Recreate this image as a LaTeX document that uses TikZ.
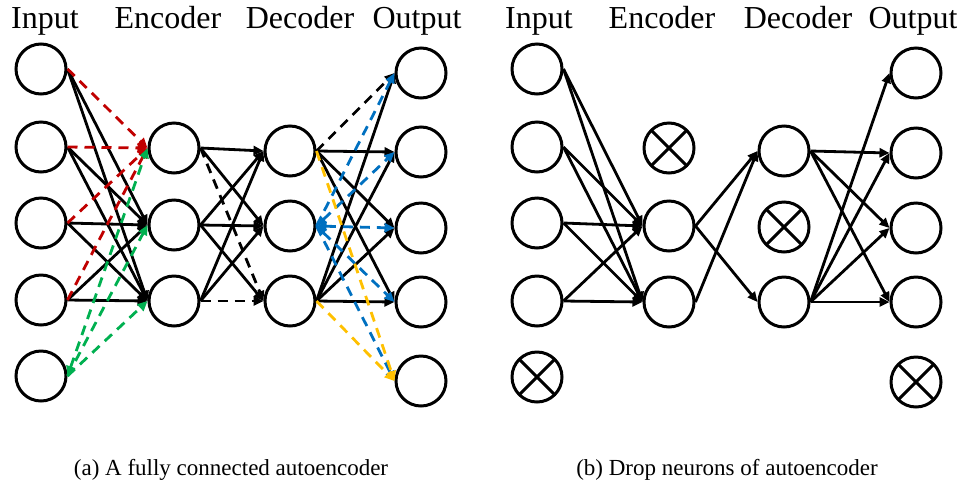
\documentclass[tikz,border=0pt]{standalone}
\usepackage{fontspec}
\setmainfont{Liberation Serif}
\usetikzlibrary{arrows.meta}
\definecolor{cred}{HTML}{C00000}
\definecolor{cgreen}{HTML}{00B050}
\definecolor{cblue}{HTML}{0070C0}
\definecolor{cyellow}{HTML}{FFC000}
\begin{document}
\begin{tikzpicture}[x=1pt,y=-1pt,
  neuron/.style={circle,draw,line width=3pt,minimum size=50pt,inner sep=0pt},
  xneuron/.style={neuron,path picture={
     \draw[line width=3pt] (path picture bounding box.north east) -- (path picture bounding box.south west);
     \draw[line width=3pt] (path picture bounding box.north west) -- (path picture bounding box.south east);}},
  conn/.style={line width=2.8pt,-{Triangle[length=10pt,width=9pt]}},
  bconn/.style={line width=2.8pt,{Triangle[length=10pt,width=9pt]}-{Triangle[length=10pt,width=9pt]}},
  dsh/.style={dash pattern=on 10pt off 7pt},
  hdr/.style={anchor=base,inner sep=0pt,font=\fontsize{32}{38}\selectfont},
  captxt/.style={anchor=base,inner sep=0pt,font=\fontsize{23}{28}\selectfont}]
\useasboundingbox (0,0) rectangle (957,483);

% headers
\node[hdr] (h1) at (45,28) {Input};
\node[hdr] (h2) at (168,28) {Encoder};
\node[hdr] (h3) at (300,28) {Decoder};
\node[hdr] (h4) at (417,28) {Output};
\node[hdr] (h5) at (539,28) {Input};
\node[hdr] (h6) at (662,28) {Encoder};
\node[hdr] (h7) at (798,28) {Decoder};
\node[hdr] (h8) at (913,28) {Output};

% captions
\node[captxt] (ca) at (231,475) {(a) A fully connected autoencoder};
\node[captxt] (cb) at (727,475) {(b) Drop neurons of autoencoder};

% ---------------- left network ----------------
\node[neuron] (LI1) at (41,69) {};
\node[neuron] (LI2) at (41,147) {};
\node[neuron] (LI3) at (41,223) {};
\node[neuron] (LI4) at (41,300) {};
\node[neuron] (LI5) at (41,376) {};
\node[neuron] (LE1) at (174,148) {};
\node[neuron] (LE2) at (174,225) {};
\node[neuron] (LE3) at (174,301) {};
\node[neuron] (LD1) at (290,151) {};
\node[neuron] (LD2) at (290,226) {};
\node[neuron] (LD3) at (290,301) {};
\node[neuron] (LO1) at (421,73) {};
\node[neuron] (LO2) at (421,152) {};
\node[neuron] (LO3) at (421,228) {};
\node[neuron] (LO4) at (421,302) {};
\node[neuron] (LO5) at (421,381) {};

\foreach \i in {1,2,3,4}{
  \draw[conn] (LI\i.east) -- (LE2.west);
  \draw[conn] (LI\i.east) -- (LE3.west);
}
\draw[conn] (LE1.east) -- (LD1.west);
\draw[conn] (LE1.east) -- (LD2.west);
\draw[conn] (LE2.east) -- (LD1.west);
\draw[conn] (LE2.east) -- (LD2.west);
\draw[conn] (LE2.east) -- (LD3.west);
\draw[conn] (LE3.east) -- (LD1.west);
\draw[conn] (LE3.east) -- (LD2.west);
\draw[conn,dsh] (LE1.east) -- (LD3.west);
\draw[conn,dsh] (LE3.east) -- (LD3.west);
\foreach \j in {2,3,4}{\draw[conn] (LD1.east) -- (LO\j.west);}
\foreach \j in {1,2,3,4}{\draw[conn] (LD3.east) -- (LO\j.west);}
\draw[conn,dsh] (LD1.east) -- (LO1.west);

\foreach \i in {1,2,3,4}{\draw[conn,dsh,cred] (LI\i.east) -- (LE1.west);}
\draw[bconn,dsh,cgreen] (LI5.east) -- (LE1.west);
\draw[conn,dsh,cgreen] (LI5.east) -- (LE2.west);
\draw[conn,dsh,cgreen] (LI5.east) -- (LE3.west);
\draw[conn,dsh,cblue] (LD2.east) -- (LO1.west);
\draw[bconn,dsh,cblue] (LD2.east) -- (LO2.west);
\draw[bconn,dsh,cblue] (LD2.east) -- (LO3.west);
\draw[bconn,dsh,cblue] (LD2.east) -- (LO4.west);
\draw[conn,dsh,cblue] (LD2.east) -- (LO5.west);
\draw[conn,dsh,cyellow] (LD1.east) -- (LO5.west);
\draw[conn,dsh,cyellow] (LD3.east) -- (LO5.west);

% ---------------- right network ----------------
\node[neuron] (RI1) at (537,69) {};
\node[neuron] (RI2) at (537,147) {};
\node[neuron] (RI3) at (537,223) {};
\node[neuron] (RI4) at (537,301) {};
\node[xneuron] (RI5) at (537,377) {};
\node[xneuron] (RE1) at (669,148) {};
\node[neuron] (RE2) at (669,226) {};
\node[neuron] (RE3) at (669,302) {};
\node[neuron] (RD1) at (784,151) {};
\node[xneuron] (RD2) at (784,227) {};
\node[neuron] (RD3) at (784,302) {};
\node[neuron] (RO1) at (916,73) {};
\node[neuron] (RO2) at (916,153) {};
\node[neuron] (RO3) at (916,228) {};
\node[neuron] (RO4) at (916,302) {};
\node[xneuron] (RO5) at (916,382) {};

\foreach \i in {1,2,3,4}{
  \draw[conn] (RI\i.east) -- (RE2.west);
  \draw[conn] (RI\i.east) -- (RE3.west);
}
\draw[conn] (RE2.east) -- (RD1.west);
\draw[conn] (RE2.east) -- (RD3.west);
\draw[conn] (RE3.east) -- (RD1.west);
\foreach \j in {2,3,4}{\draw[conn] (RD1.east) -- (RO\j.west);}
\foreach \j in {1,2,3,4}{\draw[conn] (RD3.east) -- (RO\j.west);}
\end{tikzpicture}
\end{document}
